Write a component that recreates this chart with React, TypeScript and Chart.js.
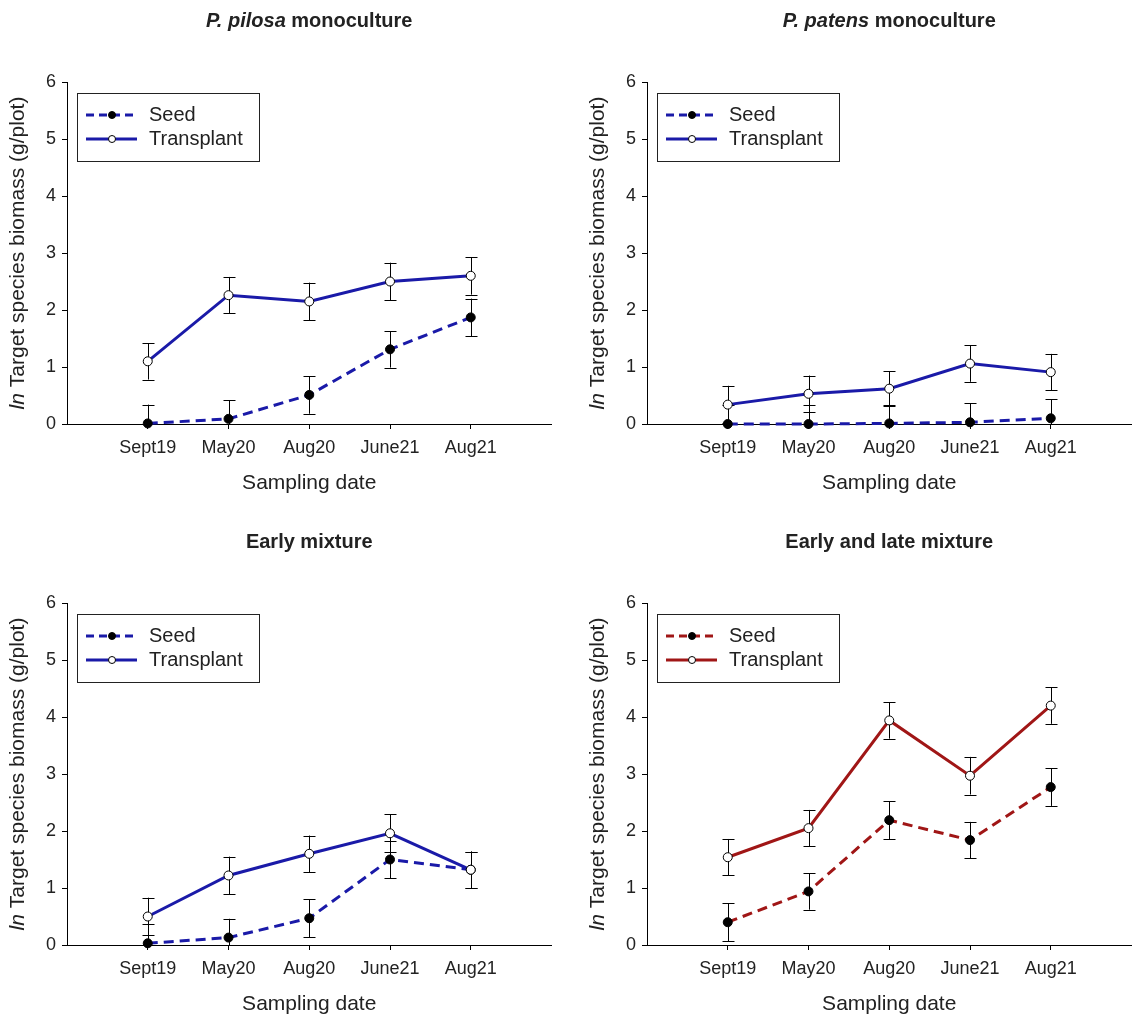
import React, { useEffect, useRef } from "react";
import { Chart, registerables } from "chart.js";

Chart.register(...registerables);

// ---------- data ----------
const categories = ["Sept19", "May20", "Aug20", "June21", "Aug21"];
const yTickValues = [0, 1, 2, 3, 4, 5, 6];
const seriesNames = ["Seed", "Transplant"];

const pilosaSeed = [0.01, 0.09, 0.51, 1.31, 1.87];
const pilosaSeedErr = [0.33, 0.33, 0.33, 0.32, 0.33];
const pilosaTransplant = [1.1, 2.26, 2.15, 2.5, 2.6];
const pilosaTransplantErr = [0.32, 0.32, 0.33, 0.33, 0.33];

const patensSeed = [0.0, 0.0, 0.01, 0.03, 0.1];
const patensSeedErr = [0.33, 0.33, 0.33, 0.33, 0.33];
const patensTransplant = [0.34, 0.53, 0.62, 1.06, 0.91];
const patensTransplantErr = [0.33, 0.32, 0.31, 0.32, 0.32];

const earlySeed = [0.03, 0.13, 0.47, 1.5, 1.32];
const earlySeedErr = [0.33, 0.33, 0.33, 0.33, 0.32];
const earlyTransplant = [0.5, 1.22, 1.6, 1.96, 1.32];
const earlyTransplantErr = [0.33, 0.33, 0.32, 0.33, 0.32];

const earlyLateSeed = [0.4, 0.94, 2.19, 1.84, 2.77];
const earlyLateSeedErr = [0.33, 0.32, 0.33, 0.32, 0.33];
const earlyLateTransplant = [1.54, 2.05, 3.94, 2.97, 4.2];
const earlyLateTransplantErr = [0.32, 0.32, 0.32, 0.33, 0.32];

const yTitle = [
  { text: "ln", italic: true },
  { text: " Target species biomass (g/plot)", italic: false },
];
const xTitle = "Sampling date";

// ---------- styling ----------
const FAMILY = '"Liberation Sans", Arial, Helvetica, sans-serif';
const BLUE = "#1a1aa8";
const RED = "#a01616";
const TEXT = "#222222";

type Seg = { text: string; italic: boolean };

type PanelCfg = {
  title: Seg[];
  color: string;
  seed: number[];
  seedErr: number[];
  transplant: number[];
  transplantErr: number[];
};

const panels: { cfg: PanelCfg; left: number; top: number }[] = [
  {
    cfg: {
      title: [
        { text: "P. pilosa", italic: true },
        { text: " monoculture", italic: false },
      ],
      color: BLUE,
      seed: pilosaSeed,
      seedErr: pilosaSeedErr,
      transplant: pilosaTransplant,
      transplantErr: pilosaTransplantErr,
    },
    left: 0,
    top: 0,
  },
  {
    cfg: {
      title: [
        { text: "P. patens", italic: true },
        { text: " monoculture", italic: false },
      ],
      color: BLUE,
      seed: patensSeed,
      seedErr: patensSeedErr,
      transplant: patensTransplant,
      transplantErr: patensTransplantErr,
    },
    left: 580,
    top: 0,
  },
  {
    cfg: {
      title: [{ text: "Early mixture", italic: false }],
      color: BLUE,
      seed: earlySeed,
      seedErr: earlySeedErr,
      transplant: earlyTransplant,
      transplantErr: earlyTransplantErr,
    },
    left: 0,
    top: 521,
  },
  {
    cfg: {
      title: [{ text: "Early and late mixture", italic: false }],
      color: RED,
      seed: earlyLateSeed,
      seedErr: earlyLateSeedErr,
      transplant: earlyLateTransplant,
      transplantErr: earlyLateTransplantErr,
    },
    left: 580,
    top: 521,
  },
];

function drawSegs(
  ctx: CanvasRenderingContext2D,
  segs: Seg[],
  cx: number,
  cy: number,
  size: number,
  bold: boolean
) {
  const fontFor = (s: Seg) =>
    `${s.italic ? "italic " : ""}${bold ? "bold " : ""}${size}px ${FAMILY}`;
  const widths = segs.map((s) => {
    ctx.font = fontFor(s);
    return ctx.measureText(s.text).width;
  });
  const total = widths.reduce((a, b) => a + b, 0);
  let x = cx - total / 2;
  ctx.textAlign = "left";
  ctx.textBaseline = "middle";
  ctx.fillStyle = TEXT;
  segs.forEach((s, i) => {
    ctx.font = fontFor(s);
    ctx.fillText(s.text, x, cy);
    x += widths[i];
  });
}

function Panel({ cfg, left, top }: { cfg: PanelCfg; left: number; top: number }) {
  const ref = useRef<HTMLCanvasElement>(null);

  useEffect(() => {
    if (!ref.current) return;

    const errorBars = {
      id: "errorBars",
      beforeDatasetsDraw(chart: any) {
        const ctx = chart.ctx as CanvasRenderingContext2D;
        const ys = chart.scales.y;
        ctx.save();
        ctx.strokeStyle = "#000";
        ctx.lineWidth = 1;
        chart.data.datasets.forEach((ds: any, i: number) => {
          const meta = chart.getDatasetMeta(i);
          ds.data.forEach((pt: any, j: number) => {
            const err = ds.errors[j];
            const el = meta.data[j];
            const x = Math.round(el.x) + 0.5;
            const hi = ys.getPixelForValue(Math.min(pt.y + err, ys.max));
            const lo = ys.getPixelForValue(Math.max(pt.y - err, ys.min));
            ctx.beginPath();
            ctx.moveTo(x, hi);
            ctx.lineTo(x, lo);
            ctx.stroke();
            const cap = 6;
            if (pt.y + err <= ys.max) {
              ctx.beginPath();
              ctx.moveTo(x - cap, Math.round(hi) + 0.5);
              ctx.lineTo(x + cap, Math.round(hi) + 0.5);
              ctx.stroke();
            }
            if (pt.y - err >= ys.min) {
              ctx.beginPath();
              ctx.moveTo(x - cap, Math.round(lo) + 0.5);
              ctx.lineTo(x + cap, Math.round(lo) + 0.5);
              ctx.stroke();
            }
          });
        });
        ctx.restore();
      },
    };

    const decorations = {
      id: "decorations",
      afterDraw(chart: any) {
        const ctx = chart.ctx as CanvasRenderingContext2D;
        const a = chart.chartArea;
        const cx = (a.left + a.right) / 2;
        ctx.save();
        // panel title
        drawSegs(ctx, cfg.title, cx, 21, 20, true);
        // x title
        drawSegs(ctx, [{ text: xTitle, italic: false }], cx, 483, 21, false);
        // y title
        ctx.save();
        ctx.translate(a.left - 49, (a.top + a.bottom) / 2);
        ctx.rotate(-Math.PI / 2);
        drawSegs(ctx, yTitle, 0, 0, 21, false);
        ctx.restore();

        // legend
        const bx = a.left + 10.5;
        const by = a.top + 11.5;
        ctx.strokeStyle = "#222";
        ctx.lineWidth = 1;
        ctx.strokeRect(bx, by, 182, 68);
        const rows = [
          { name: seriesNames[0], dash: [8, 5], fill: "#000", y: a.top + 33 },
          { name: seriesNames[1], dash: [], fill: "#fff", y: a.top + 57 },
        ];
        rows.forEach((r) => {
          ctx.setLineDash(r.dash);
          ctx.strokeStyle = cfg.color;
          ctx.lineWidth = 3;
          ctx.beginPath();
          ctx.moveTo(a.left + 19, r.y);
          ctx.lineTo(a.left + 70, r.y);
          ctx.stroke();
          ctx.setLineDash([]);
          ctx.beginPath();
          ctx.arc(a.left + 45, r.y, 3.5, 0, Math.PI * 2);
          ctx.fillStyle = r.fill;
          ctx.fill();
          ctx.lineWidth = 1;
          ctx.strokeStyle = "#000";
          ctx.stroke();
          ctx.font = `20px ${FAMILY}`;
          ctx.fillStyle = TEXT;
          ctx.textAlign = "left";
          ctx.textBaseline = "middle";
          ctx.fillText(r.name, a.left + 82, r.y);
        });
        ctx.restore();
      },
    };

    const toPts = (vals: number[]) => vals.map((v, i) => ({ x: i + 1, y: v }));

    const chart = new Chart(ref.current, {
      type: "line",
      data: {
        datasets: [
          {
            label: seriesNames[1],
            data: toPts(cfg.transplant),
            errors: cfg.transplantErr,
            borderColor: cfg.color,
            borderWidth: 3,
            pointRadius: 4.5,
            pointBackgroundColor: "#fff",
            pointBorderColor: "#000",
            pointBorderWidth: 1,
            tension: 0,
            clip: false,
          } as any,
          {
            label: seriesNames[0],
            data: toPts(cfg.seed),
            errors: cfg.seedErr,
            borderColor: cfg.color,
            borderWidth: 3,
            borderDash: [10, 6],
            pointRadius: 4.5,
            pointBackgroundColor: "#000",
            pointBorderColor: "#000",
            pointBorderWidth: 1,
            tension: 0,
            clip: false,
          } as any,
        ],
      },
      options: {
        animation: false,
        responsive: false,
        events: [],
        layout: { padding: { left: 0, right: 0, top: 82, bottom: 0 } },
        plugins: {
          legend: { display: false },
          tooltip: { enabled: false },
          title: { display: false },
        },
        scales: {
          x: {
            type: "linear",
            min: 0,
            max: 6,
            afterBuildTicks: (s: any) => {
              s.ticks = categories.map((_, i) => ({ value: i + 1 }));
            },
            afterFit: (s: any) => {
              s.height = 76;
            },
            ticks: {
              callback: (v: any) => categories[Number(v) - 1] ?? "",
              font: { size: 18, family: FAMILY },
              color: TEXT,
              padding: 8,
              maxRotation: 0,
              autoSkip: false,
            },
            grid: {
              drawOnChartArea: false,
              tickLength: 5,
              color: "#000",
              tickColor: "#000",
            },
            border: { color: "#000", width: 1 },
          },
          y: {
            type: "linear",
            min: 0,
            max: 6,
            afterBuildTicks: (s: any) => {
              s.ticks = yTickValues.map((v) => ({ value: v }));
            },
            afterFit: (s: any) => {
              s.width = 67;
            },
            ticks: {
              font: { size: 18, family: FAMILY },
              color: TEXT,
              padding: 6,
            },
            grid: {
              drawOnChartArea: false,
              tickLength: 5,
              color: "#000",
              tickColor: "#000",
            },
            border: { color: "#000", width: 1 },
          },
        },
      } as any,
      plugins: [errorBars, decorations],
    });

    return () => chart.destroy();
  }, [cfg]);

  return (
    <canvas
      ref={ref}
      width={557}
      height={500}
      style={{ position: "absolute", left, top, width: 557, height: 500, display: "block" }}
    />
  );
}

export default function App() {
  return (
    <div style={{ position: "absolute", left: 0, top: 0, width: 1137, height: 1021, background: "#fff" }}>
      {panels.map((p, i) => (
        <Panel key={i} cfg={p.cfg} left={p.left} top={p.top} />
      ))}
    </div>
  );
}
